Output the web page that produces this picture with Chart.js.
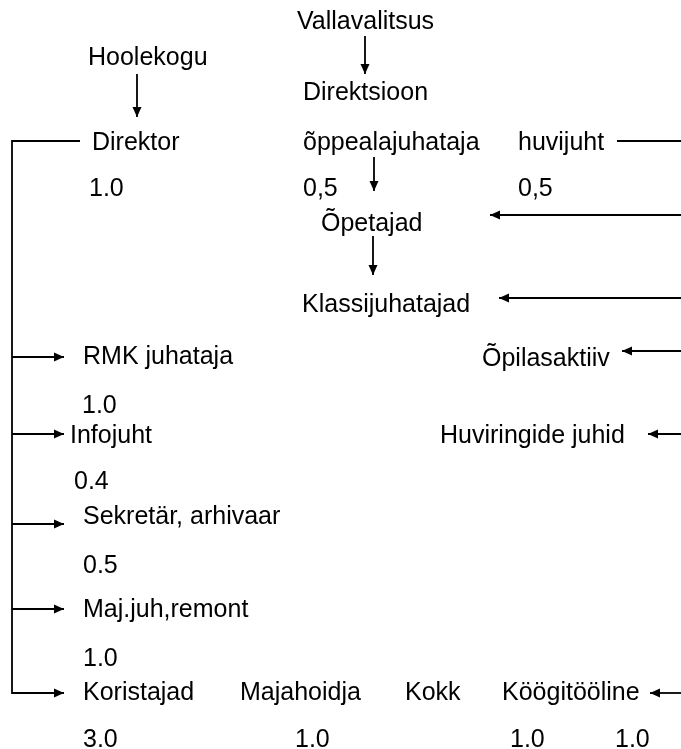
<!DOCTYPE html>
<html lang="et">
<head>
    <meta charset="UTF-8" />
    <title>Struktuur</title>
    <script src="https://cdn.jsdelivr.net/npm/chart.js"></script>
    <style>
        html, body { margin: 0; padding: 0; background: #fff; }
        canvas { display: block; }
    </style>
</head>
<body>

<canvas id="orgChart" width="681" height="749"></canvas>

<script>
    // Boxes of the scheme: text and where it sits (chart units = px, y from top)
    const nodeTexts = [
        'Vallavalitsus', 'Hoolekogu', 'Direktsioon',
        'Direktor', 'õppealajuhataja', 'huvijuht',
        '1.0', '0,5', '0,5',
        'Õpetajad', 'Klassijuhatajad',
        'RMK juhataja', 'Õpilasaktiiv', '1.0',
        'Infojuht', 'Huviringide juhid', '0.4',
        'Sekretär, arhivaar', '0.5', 'Maj.juh,remont', '1.0',
        'Koristajad', 'Majahoidja', 'Kokk', 'Köögitööline',
        '3.0', '1.0', '1.0', '1.0'
    ];
    const nodeX = [
        297, 88, 303,
        92, 303, 518,
        89, 303, 518,
        321, 302,
        83, 482, 82,
        70, 440, 74,
        83, 83, 83, 83,
        83, 240, 405, 502,
        83, 295, 510, 615
    ];
    const nodeY = [
        29, 65, 100,
        150, 150, 150,
        196, 196, 196,
        231, 312,
        364, 366, 413,
        443, 443, 489,
        524, 573, 617, 666,
        700, 700, 700, 700,
        747, 747, 747, 747
    ];

    // Connectors: list of points, and whether the last point gets an arrowhead
    const connectorPaths = [
        [[365, 36], [365, 74]],
        [[137, 74], [137, 117]],
        [[80, 141], [12, 141], [12, 693], [64, 693]],
        [[12, 357], [64, 357]],
        [[12, 434], [64, 434]],
        [[12, 524], [64, 524]],
        [[12, 609], [64, 609]],
        [[617, 141], [681, 141]],
        [[374, 157], [374, 191]],
        [[373, 236], [373, 275]],
        [[681, 215], [490, 215]],
        [[681, 298], [499, 298]],
        [[681, 351], [622, 351]],
        [[681, 434], [648, 434]],
        [[681, 693], [650, 693]]
    ];
    const connectorArrow = [
        true, true, true, true, true, true, true, false,
        true, true, true, true, true, true, true
    ];

    const FONT = '25px "Liberation Sans", Arial, sans-serif';

    // draws the node texts at their data points
    const textPlugin = {
        id: 'nodeText',
        afterDatasetsDraw(chart) {
            const ctx = chart.ctx;
            const meta = chart.getDatasetMeta(0);
            ctx.save();
            ctx.font = FONT;
            ctx.fillStyle = '#000';
            ctx.textAlign = 'left';
            ctx.textBaseline = 'alphabetic';
            meta.data.forEach((pt, i) => {
                ctx.fillText(nodeTexts[i], pt.x, pt.y);
            });
            ctx.restore();
        }
    };

    // arrowheads on the last point of connector datasets
    const arrowPlugin = {
        id: 'arrowHeads',
        afterDatasetsDraw(chart) {
            const ctx = chart.ctx;
            chart.data.datasets.forEach((ds, di) => {
                if (!ds.arrow) return;
                const pts = chart.getDatasetMeta(di).data;
                const tip = pts[pts.length - 1];
                const prev = pts[pts.length - 2];
                const ang = Math.atan2(tip.y - prev.y, tip.x - prev.x);
                const len = 10, half = 4.5;
                ctx.save();
                ctx.translate(tip.x, tip.y);
                ctx.rotate(ang);
                ctx.beginPath();
                ctx.moveTo(0, 0);
                ctx.lineTo(-len, -half);
                ctx.lineTo(-len, half);
                ctx.closePath();
                ctx.fillStyle = '#000';
                ctx.fill();
                ctx.restore();
            });
        }
    };

    const datasets = [{
        label: 'nodes',
        data: nodeX.map((x, i) => ({ x: x, y: nodeY[i] })),
        pointRadius: 0,
        showLine: false
    }];

    connectorPaths.forEach((path, i) => {
        datasets.push({
            label: 'line' + i,
            data: path.map(p => ({ x: p[0], y: p[1] })),
            showLine: true,
            borderColor: '#000',
            borderWidth: 1.8,
            pointRadius: 0,
            tension: 0,
            clip: false,
            arrow: connectorArrow[i]
        });
    });

    new Chart(document.getElementById('orgChart').getContext('2d'), {
        type: 'scatter',
        data: { datasets: datasets },
        options: {
            responsive: false,
            animation: false,
            layout: { padding: 0 },
            scales: {
                x: { type: 'linear', min: 0, max: 681, display: false },
                y: { type: 'linear', min: 0, max: 749, reverse: true, display: false }
            },
            plugins: {
                legend: { display: false },
                tooltip: { enabled: false }
            }
        },
        plugins: [textPlugin, arrowPlugin]
    });
</script>

</body>
</html>
